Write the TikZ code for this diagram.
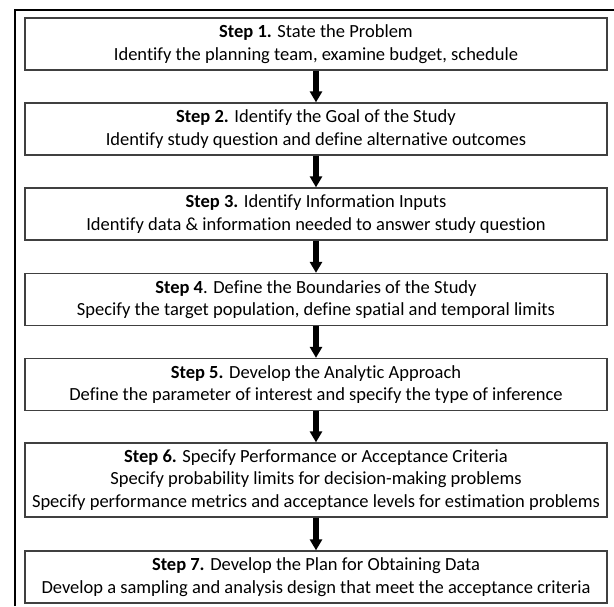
\documentclass[tikz,border=0pt]{standalone}
\usepackage{fontspec}
\setmainfont{Carlito}[Ligatures=NoCommon]
\usetikzlibrary{arrows.meta}

\begin{document}
\begin{tikzpicture}[x=1pt,y=-1pt,>={Triangle[width=12pt,length=11pt]},
    stepbox/.style={draw=black!75,line width=1.3pt,minimum width=582pt,
        minimum height=52pt,inner sep=0pt,align=center,
        font=\fontsize{18.5}{22.5}\selectfont},
    flow/.style={->,line width=6pt}]
\useasboundingbox (0,0) rectangle (614,606);
% outer frame (cut off at right and bottom)
\draw[line width=2.5pt] (15,606)--(15,10)--(614,10);
\node[stepbox] (step1) at (316,44) {\textbf{Step 1.} State the Problem\\
    Identify the planning team, examine budget, schedule};
\node[stepbox] (step2) at (316,129) {\textbf{Step 2.} Identify the Goal of the Study\\
    Identify study question and define alternative outcomes};
\node[stepbox] (step3) at (316,214) {\textbf{Step 3.} Identify Information Inputs\\
    Identify data \& information needed to answer study question};
\node[stepbox] (step4) at (316,299.5) {\textbf{Step 4}. Define the Boundaries of the Study\\
    Specify the target population, define spatial and temporal limits};
\node[stepbox] (step5) at (316,384.5) {\textbf{Step 5.} Develop the Analytic Approach\\
    Define the parameter of interest and specify the type of inference};
\node[stepbox,minimum height=74pt] (step6) at (316,480) {\textbf{Step 6.} Specify Performance or Acceptance Criteria\\
    Specify probability limits for decision-making problems\\
    Specify performance metrics and acceptance levels for estimation problems};
\node[stepbox] (step7) at (316,577) {\textbf{Step 7.} Develop the Plan for Obtaining Data\\
    Develop a sampling and analysis design that meet the acceptance criteria};
\foreach \a/\b in {1/2,2/3,3/4,4/5,5/6,6/7}
    \draw[flow] (step\a)--(step\b);
\end{tikzpicture}
\end{document}
